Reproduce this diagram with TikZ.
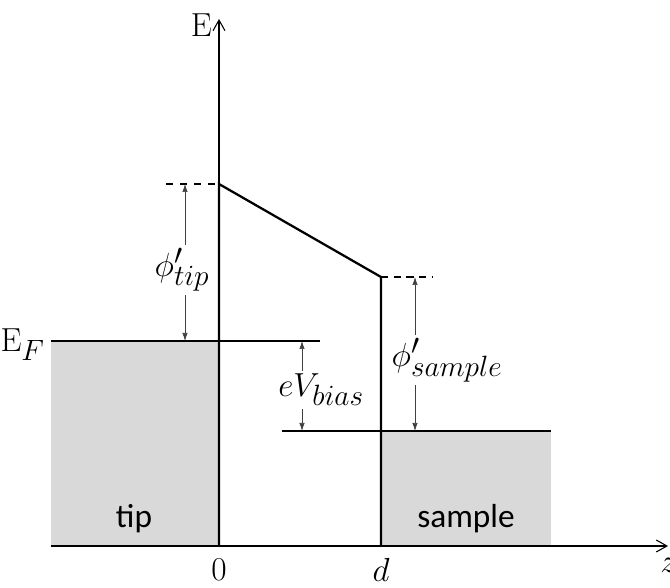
\RequirePackage{fix-cm}
\documentclass[tikz,border=0pt]{standalone}
\usepackage{fontspec}
\newfontfamily\boxfont{Carlito}
\usetikzlibrary{arrows.meta,positioning}
\definecolor{fillgray}{HTML}{D9D9D9}
\DeclareMathSizes{25}{25}{22}{17}

\begin{document}
\begin{tikzpicture}[
  x=0.75pt, y=0.75pt,
  band/.style={line width=1.7pt},
  axis/.style={line width=0.8pt, -{Straight Barb[length=8pt,width=9pt]}},
  dimarrow/.style={line width=0.5pt, draw=black!75, -{Latex[length=6pt,width=4pt]}},
  mathlabel/.style={font=\fontsize{25}{30}\selectfont, inner sep=2pt},
  boxlabel/.style={font=\boxfont\fontsize{25}{30}\selectfont},
  ticklabel/.style={font=\fontsize{25}{30}\selectfont, inner sep=0pt}
]
\useasboundingbox (-219,-42) rectangle (451,546);

% filled regions
\fill[fillgray] (-168,0) rectangle (0,205);
\fill[fillgray] (162,0) rectangle (332,115);

% axes
\coordinate (orig) at (0,0);
\coordinate (zleft) at (-168,0);
\coordinate (zend) at (449,0);
\coordinate (Eend) at (0,527);
\draw[axis] (zleft) -- (zend);
\draw[axis] (orig) -- (Eend);

% barrier and levels
\coordinate (bartop) at (0,362);
\coordinate (barend) at (162,269);
\coordinate (dbot) at (162,0);
\coordinate (tipdash) at (-53,362);
\coordinate (sampdash) at (213,269);
\coordinate (EFleft) at (-168,205);
\coordinate (EFright) at (101,205);
\coordinate (sampleft) at (63,115);
\coordinate (sampright) at (332,115);
\draw[band] (orig) -- (bartop) -- (barend) -- (dbot);
\draw[band, dash pattern=on 5.5pt off 5pt] (tipdash) -- (bartop);
\draw[band, dash pattern=on 5.5pt off 4pt] (barend) -- (sampdash);
\draw[band] (EFleft) -- (EFright);
\draw[band] (sampleft) -- (sampright);

% axis labels
\node[ticklabel, anchor=base east] (Elab) at (-7,509) {E};
\node[ticklabel, anchor=base east] (EFlab) at (-174,194) {E$_F$};
\node[ticklabel] (zerolab) at (0,-24) {$0$};
\node[ticklabel] (dlab) at (162,-24) {$d$};
\node[ticklabel, anchor=west] (zlab) at (441,-19) {$z$};

% regions
\node[boxlabel] (tiplab) at (-85,27) {tip};
\node[boxlabel] (samplelab) at (247,27) {sample};

% work functions and bias
\coordinate (phitop) at (-34,362);
\coordinate (phibot) at (-34,205);
\node[mathlabel] (phitip) at (-37,276) {$\phi'_{tip}$};
\draw[dimarrow] (phitip.north -| phitop) -- (phitop);
\draw[dimarrow] (phitip.south -| phitop) -- (phibot);

\coordinate (biastop) at (83,205);
\coordinate (biasbot) at (83,115);
\node[mathlabel] (ebias) at (102,156) {$eV_{bias}$};
\draw[dimarrow] (ebias.north -| biastop) -- (biastop);
\draw[dimarrow] (ebias.south -| biastop) -- (biasbot);

\coordinate (samptop) at (196,269);
\coordinate (sampbot) at (196,115);
\node[mathlabel] (phisample) at (228,186) {$\phi'_{sample}$};
\draw[dimarrow] (phisample.north -| samptop) -- (samptop);
\draw[dimarrow] (phisample.south -| samptop) -- (sampbot);
\end{tikzpicture}
\end{document}
